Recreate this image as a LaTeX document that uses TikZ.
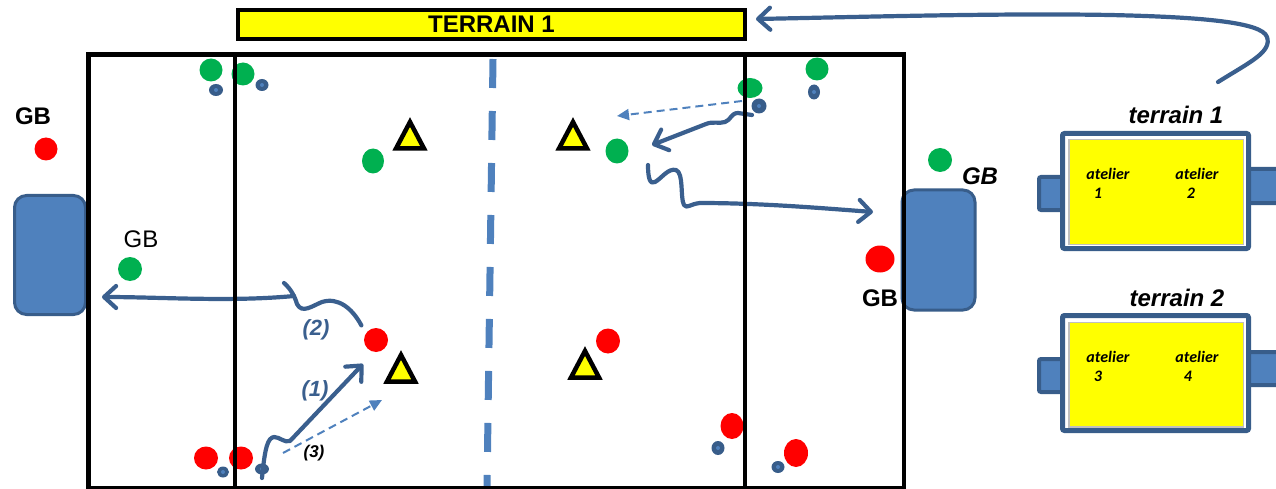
\documentclass[tikz,border=0pt]{standalone}
\usepackage{fontspec}
\setmainfont{Liberation Sans}
\newfontfamily\calfont{Carlito}
\usetikzlibrary{arrows.meta,shapes.geometric}
\definecolor{goalfill}{HTML}{4F81BD}
\definecolor{goalline}{HTML}{385D8A}
\definecolor{runline}{HTML}{3A5F8E}
\definecolor{passline}{HTML}{4F81BD}
\definecolor{teamgreen}{HTML}{00B050}
\definecolor{teamred}{HTML}{FF0000}
\definecolor{conefill}{HTML}{FFFF00}
\begin{document}
\begin{tikzpicture}[x=1pt,y=-1pt,
  redp/.style={ellipse,fill=teamred,inner sep=0,minimum width=24pt,minimum height=24pt},
  greenp/.style={ellipse,fill=teamgreen,inner sep=0,minimum width=23pt,minimum height=23pt},
  ball/.style={ellipse,fill=goalline,inner sep=0,minimum width=13pt,minimum height=12pt,
    path picture={\fill[goalfill] (path picture bounding box.center) ellipse (2pt and 2pt);}},
  goal/.style={rectangle,draw=goalline,fill=goalfill,line width=3pt,rounded corners=12pt,inner sep=0},
  fieldline/.style={line width=4.5pt,black},
  run/.style={draw=runline,line width=4.2pt,line cap=round,line join=round},
  runtip/.style={-{Straight Barb[length=12pt,width=22pt,round]}},
  pass/.style={draw=passline,line width=2pt,dash pattern=on 8pt off 5pt,-{Triangle[length=12pt,width=11pt]}},
  conemark/.style={draw=black,fill=conefill,line width=4.5pt,line join=miter},
  lab/.style={inner sep=0,font=\fontsize{24}{24}\selectfont},
  labb/.style={inner sep=0,font=\fontsize{24}{24}\selectfont\bfseries},
  labbi/.style={inner sep=0,font=\fontsize{24}{24}\selectfont\bfseries\itshape},
  num/.style={inner sep=0,text=runline,font=\fontsize{22}{22}\selectfont\bfseries\itshape},
  atel/.style={inner sep=0,font=\fontsize{16}{16}\calfont\bfseries\itshape},
  tab/.style={draw=goalline,fill=goalfill,line width=4pt,rounded corners=2pt},
  tbox/.style={rectangle,draw=goalline,fill=white,line width=5pt,rounded corners=2pt,inner sep=0,minimum width=186pt,minimum height=115pt},
  tfield/.style={rectangle,draw=black!25,fill=conefill,line width=1.5pt,inner sep=0,minimum width=174.5pt,minimum height=104.5pt}
]
\useasboundingbox (0,0) rectangle (1276,489);

% halfway line
\draw[goalfill,line width=7pt,dash pattern=on 29pt off 23pt] (493,59) -- (487,487);

% goals
\node[goal,minimum width=71pt,minimum height=119pt] (goalL) at (50,255) {};
\node[goal,minimum width=73pt,minimum height=120pt] (goalR) at (938.5,250) {};

% players
\node[redp,minimum width=23pt,minimum height=23pt] (rgb) at (46,149) {};
\node[redp,minimum height=23pt] (r1) at (206,458) {};
\node[redp,minimum height=23pt] (r2) at (241,458) {};
\node[redp] (r3) at (376,340) {};
\node[redp,minimum height=25pt] (r4) at (608,341) {};
\node[redp,minimum width=23pt,minimum height=26pt] (r5) at (732,426) {};
\node[redp,minimum height=28pt] (r6) at (796,453) {};
\node[redp,minimum width=29pt,minimum height=27pt] (r7) at (880,259) {};

\node[greenp,minimum width=24pt,minimum height=24pt] (ggb) at (130,269) {};
\node[greenp] (g1) at (211,70) {};
\node[greenp] (g2) at (243,74) {};
\node[greenp,minimum width=22pt,minimum height=25pt] (g3) at (373,161) {};
\node[greenp,minimum height=25pt] (g4) at (617,151) {};
\node[greenp,minimum width=25pt,minimum height=20pt] (g5) at (750,88) {};
\node[greenp] (g6) at (817,69) {};
\node[greenp,minimum width=24pt,minimum height=24pt] (g7) at (940,160) {};

\node[ball,minimum width=14pt] (b1) at (216,90) {};
\node[ball] (b2) at (262,85) {};
\node[ball,minimum width=12pt,minimum height=11pt] (b3) at (223,472) {};
\node[ball,minimum width=14pt,minimum height=11pt] (b4) at (262,469) {};
\node[ball,minimum height=14pt] (b5) at (718,448) {};
\node[ball] (b6) at (778,467) {};
\node[ball,minimum width=15pt,minimum height=15pt] (b7) at (759,106) {};
\node[ball,minimum width=12pt,minimum height=15pt] (b8) at (814,92) {};

% cones
\foreach \cx/\cy in {410/135, 573/135, 401/368, 585/364}
  \draw[conemark] (\cx,\cy) ++(0,-13) -- ++(14,26.5) -- ++(-28,0) -- cycle;

% runs and passes
\coordinate (kink) at (294,296);
\coordinate (shotL) at (102,297);
\draw[run] ([shift={(-6,-6)}]r3.north west) .. controls (352,308) and (338,297) .. (322,302)
  .. controls (312,306) and (302,314) .. (297,304) .. controls (295,297) and (291,289) .. (284,283);
\draw[run,runtip] (kink) .. controls (230,302) and (160,297) .. (shotL);

\coordinate (up1) at (363,364);
\draw[run,runtip] ([yshift=-9]b4.center) .. controls (265,446) and (268,438) .. (274,437)
  .. controls (280,437) and (284,443) .. (290,441) -- (up1);
\coordinate (p3s) at (283,453);
\coordinate (p3e) at (382,400);
\draw[pass] (p3s) -- (p3e);

\coordinate (p4s) at (742,101);
\coordinate (p4e) at (617,116);
\draw[pass] (p4s) -- (p4e);

\coordinate (toG4) at (652,145);
\draw[run,runtip] ([shift={(-7,9)}]b7.center) -- (738,113) .. controls (731,113) and (731,120) .. (725,122)
  .. controls (719,124) and (713,121) .. (706,124) -- (toG4);

\coordinate (toGR) at (873,212);
\draw[run,runtip] (648,165) .. controls (648,178) and (650,185) .. (655,182)
  .. controls (662,178) and (668,168) .. (676,170) .. controls (684,173) and (680,198) .. (684,205)
  .. controls (687,209) and (690,204) .. (700,203) .. controls (760,203) and (820,208) .. (toGR);

% field lines
\draw[fieldline] (88.5,54.5) rectangle (904,488);
\draw[fieldline] (235,54.5) -- (235,486);
\draw[fieldline] (745,54.5) -- (745,488);

% banner
\node[rectangle,draw=black,fill=conefill,line width=4pt,minimum width=507pt,minimum height=29pt,
  inner sep=0,font=\fontsize{24}{24}\selectfont\bfseries] (banner) at (491.5,24.5) {TERRAIN 1};

% labels
\node[labb] (gb1) at (33,116) {GB};
\node[lab] (gb2) at (141,239.5) {GB};
\node[labbi] (gb3) at (980,176) {GB};
\node[labb] (gb4) at (880,298.5) {GB};
\node[num] (n2) at (316,330) {(2)};
\node[num] (n1) at (315,391) {(1)};
\node[inner sep=0,font=\fontsize{17}{17}\selectfont\bfseries\itshape] (n3) at (314,453) {(3)};

% workshop fields
\draw[tab] (1039,177) rectangle (1064,210);
\draw[tab] (1247,169) rectangle (1280,203);
\node[tbox] (t1) at (1155.5,191) {};
\node[tfield] (t1f) at (1156,192) {};
\draw[tab] (1039,359) rectangle (1064,392);
\draw[tab] (1247,352) rectangle (1280,385);
\node[tbox] (t2) at (1155.5,373) {};
\node[tfield] (t2f) at (1156,374.5) {};

\node[labbi] (t1t) at (1176,115) {terrain 1};
\node[labbi] (t2t) at (1177,298) {terrain 2};
\node[atel] (a1) at (1108,174) {atelier};
\node[atel] (a1n) at (1098,193) {1};
\node[atel] (a2) at (1197,174) {atelier};
\node[atel] (a2n) at (1191,193) {2};
\node[atel] (a3) at (1108,357) {atelier};
\node[atel] (a3n) at (1098,376) {3};
\node[atel] (a4) at (1197,357) {atelier};
\node[atel] (a4n) at (1188,376) {4};

% back to the main field
\coordinate (backS) at (1218,82);
\coordinate (backE) at (756,19);
\draw[run,runtip] (backS) .. controls (1250,62) and (1272,52) .. (1267,37)
  .. controls (1262,22) and (1200,17) .. (1110,15) .. controls (1000,13) and (860,17) .. (backE);
\end{tikzpicture}
\end{document}
